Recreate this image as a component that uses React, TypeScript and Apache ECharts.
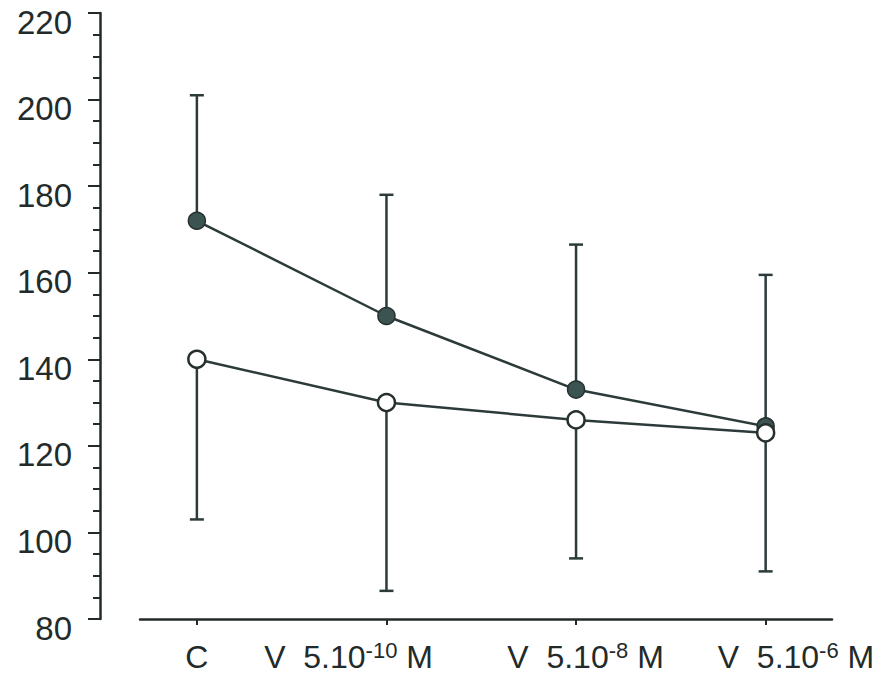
import React, { useEffect, useRef } from 'react';
import * as echarts from 'echarts';

// ---- data ----
const categories = ['C', 'V  5.10', 'V  5.10', 'V  5.10'];
const exponents = ['', '-10', '-8', '-6'];
const units = ['', ' M', ' M', ' M'];
const filledMean = [172, 150, 133, 124.5];
const filledUpper = [201, 178, 166.5, 159.5];
const openMean = [140, 130, 126, 123];
const openLower = [103, 86.5, 94, 91];
const yMin = 80;
const yMax = 220;
const yStep = 20;

const INK = '#232b2a';
const SERIES_INK = '#2c3b3a';
const FONT = '"Liberation Sans", Arial, Helvetica, sans-serif';

// where each category label is centred along the x axis (the reference sets them off their ticks)
const labelAnchors = [0, 0.8, 2.05, 3.16];

function errorBarRenderer(params: any, api: any) {
  const x = api.value(0);
  const from = api.coord([x, api.value(1)]);
  const to = api.coord([x, api.value(2)]);
  const hw = 7;
  return {
    type: 'group',
    children: [
      {
        type: 'line',
        shape: { x1: from[0], y1: from[1], x2: to[0], y2: to[1] },
        style: { stroke: SERIES_INK, lineWidth: 2.5 },
      },
      {
        type: 'line',
        shape: { x1: to[0] - hw, y1: to[1], x2: to[0] + hw, y2: to[1] },
        style: { stroke: SERIES_INK, lineWidth: 2.5 },
      },
    ],
  };
}

export default function App() {
  const ref = useRef<HTMLDivElement>(null);

  useEffect(() => {
    document.body.style.margin = '0';
    const chart = echarts.init(ref.current as HTMLDivElement, null, { renderer: 'svg' });

    const rich: any = {
      a: { fontSize: 32, fontFamily: FONT, color: INK, lineHeight: 36 },
      s: { fontSize: 22, fontFamily: FONT, color: INK, lineHeight: 28, verticalAlign: 'top' },
    };

    const option: any = {
      animation: false,
      backgroundColor: '#ffffff',
      grid: { left: 140, right: 51, top: 13, bottom: 63 },
      xAxis: {
        type: 'value',
        min: -0.3,
        max: 3.35,
        splitLine: { show: false },
        axisLine: { show: true, onZero: false, lineStyle: { color: INK, width: 2.5 } },
        axisTick: {
          show: true,
          customValues: categories.map((_, i) => i),
          length: 6,
          lineStyle: { color: INK, width: 2 },
        },
        axisLabel: {
          customValues: labelAnchors,
          margin: 20,
          showMinLabel: true,
          showMaxLabel: true,
          hideOverlap: false,
          formatter: (v: number) => {
            let i = 0;
            labelAnchors.forEach((p, k) => {
              if (Math.abs(p - v) < Math.abs(labelAnchors[i] - v)) i = k;
            });
            let s = `{a|${categories[i]}}`;
            if (exponents[i]) s += `{s|${exponents[i]}}`;
            if (units[i]) s += `{a|${units[i]}}`;
            return s;
          },
          rich,
        },
      },
      yAxis: {
        type: 'value',
        min: yMin,
        max: yMax,
        interval: yStep,
        offset: 40,
        splitLine: { show: false },
        axisLine: { show: true, onZero: false, lineStyle: { color: INK, width: 2.5 } },
        axisTick: { show: true, inside: false, length: 12, lineStyle: { color: INK, width: 2 } },
        minorTick: { show: true, splitNumber: 4, length: 7, lineStyle: { color: INK, width: 2 } },
        axisLabel: {
          fontSize: 33,
          fontFamily: FONT,
          color: INK,
          margin: 28,
          verticalAlign: 'top',
          lineHeight: 18,
          showMinLabel: true,
          showMaxLabel: true,
        },
      },
      series: [
        {
          type: 'custom',
          name: 'filled-sd',
          renderItem: errorBarRenderer,
          encode: { x: 0, y: [1, 2] },
          data: filledMean.map((m, i) => [i, m, filledUpper[i]]),
          z: 1,
        },
        {
          type: 'custom',
          name: 'open-sd',
          renderItem: errorBarRenderer,
          encode: { x: 0, y: [1, 2] },
          data: openMean.map((m, i) => [i, m, openLower[i]]),
          z: 1,
        },
        {
          type: 'line',
          name: 'filled',
          data: filledMean.map((v, i) => [i, v]),
          symbol: 'circle',
          symbolSize: 17,
          lineStyle: { color: SERIES_INK, width: 2.5 },
          itemStyle: { color: '#3b5351', borderColor: '#26302f', borderWidth: 1.5 },
          z: 3,
        },
        {
          type: 'line',
          name: 'open',
          data: openMean.map((v, i) => [i, v]),
          symbol: 'circle',
          symbolSize: 17,
          lineStyle: { color: SERIES_INK, width: 2.5 },
          itemStyle: { color: '#ffffff', borderColor: '#26302f', borderWidth: 2.5 },
          z: 4,
        },
      ],
    };

    chart.setOption(option);
    return () => chart.dispose();
  }, []);

  return <div ref={ref} style={{ width: 883, height: 682 }} />;
}
